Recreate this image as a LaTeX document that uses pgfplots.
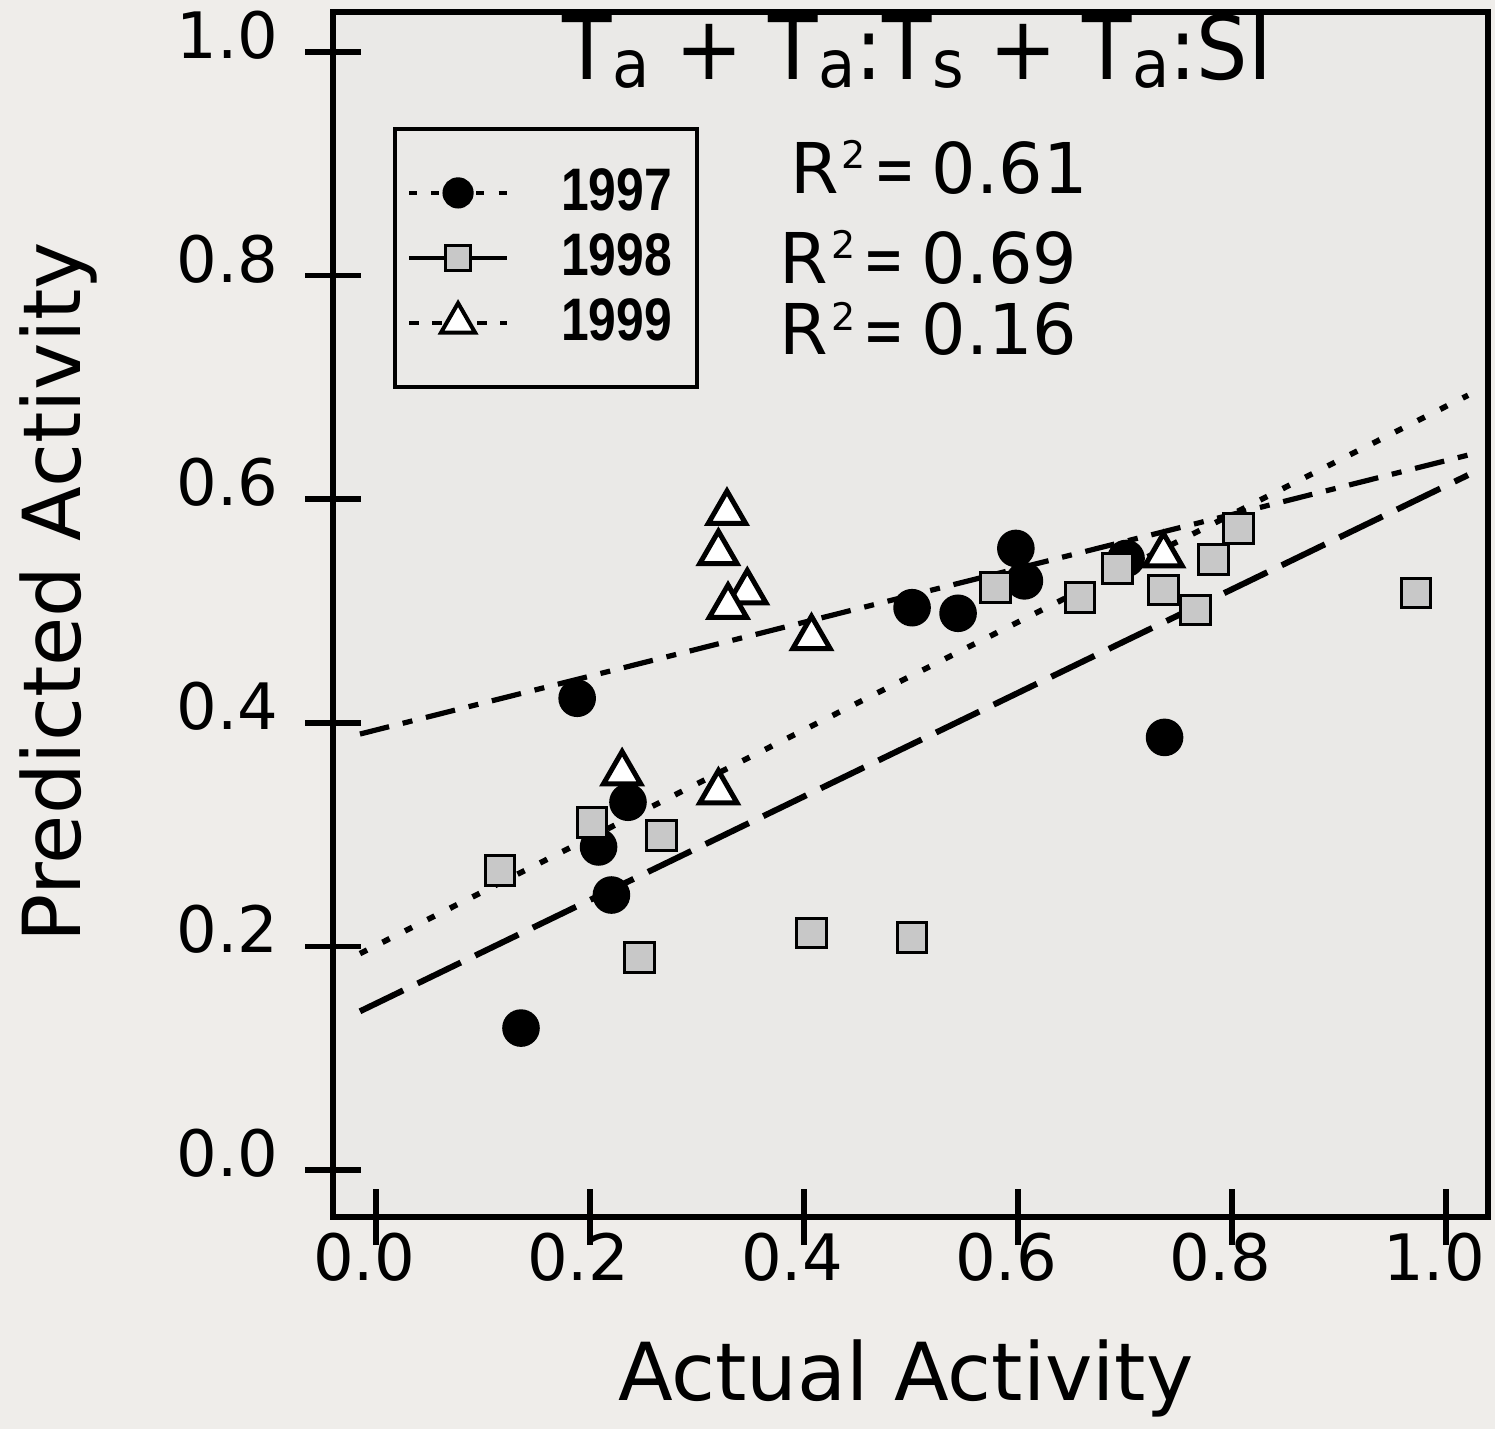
\documentclass[border=0pt]{standalone}
\usepackage{fontspec}
\setmainfont{DejaVu Sans}
\newfontfamily\legfont{Liberation Sans}
\usepackage{graphicx}
\usepackage{pgfplots}
\pgfplotsset{compat=1.18}
\definecolor{bgc}{RGB}{239,237,234}
\definecolor{axbg}{RGB}{234,233,231}
\definecolor{sqfill}{RGB}{200,200,200}
\newcommand{\sub}[1]{\raisebox{-2pt}{\fontsize{16.5}{16.5}\selectfont #1}}
\newcommand{\legtxt}[1]{\scalebox{0.83}[1]{\legfont\bfseries\fontsize{15}{15}\selectfont #1}\hspace*{3.25pt}}
\newcommand{\rsq}[1]{R\hspace{0.04em}\raisebox{6.2pt}{\fontsize{9.5}{9.5}\selectfont 2}\hspace{0.12em}\scalebox{0.7}[1]{=}\hspace{0.24em}#1}
\begin{document}
\begin{tikzpicture}
\fill[bgc] (0,0) rectangle (373.75pt,357.25pt);
\useasboundingbox (0,0) rectangle (373.75pt,357.25pt);
\begin{axis}[
  at={(83.25pt,53pt)}, anchor=south west,
  scale only axis, width=288.75pt, height=301.25pt,
  xmin=-0.0402, xmax=1.0393, ymin=-0.0420, ymax=1.0358,
  axis background/.style={fill=axbg},
  axis line style={line width=1.5pt},
  every tick/.style={black, line width=1.4pt},
  major tick length=14pt, tick align=center,
  xtick pos=bottom, ytick pos=left,
  xtick={0,0.2,0.4,0.6,0.8,1}, ytick={0,0.2,0.4,0.6,0.8,1},
  /pgf/number format/assume math mode=true,
  xticklabel={\pgfmathprintnumber[fixed,fixed zerofill,precision=1]{\tick}},
  yticklabel={\pgfmathprintnumber[fixed,fixed zerofill,precision=1]{\tick}},
  tick label style={font=\fontsize{16}{16}\selectfont, inner sep=0pt},
  xticklabel style={anchor=base, xshift=-3pt, yshift=-8.75pt},
  yticklabel style={anchor=base east, xshift=-6.5pt, yshift=-1.6pt},
  xlabel={Actual Activity},
  xlabel style={at={(axis description cs:0.496,-0.152)}, anchor=base, font=\fontsize{20}{20}\selectfont, inner sep=0pt},
  ylabel={Predicted Activity},
  ylabel style={at={(axis description cs:-0.219,0.5187)}, anchor=base, rotate=0, font=\fontsize{20}{20}\selectfont, inner sep=0pt},
  legend image code/.code={\draw[mark repeat=2,mark phase=2,#1] plot coordinates {(0pt,0pt) (12.25pt,0pt) (24.5pt,0pt)};},
  legend style={at={(axis description cs:0.052,0.9046)}, anchor=north west, draw=black, line width=1pt, fill=none,
    inner xsep=3pt, inner ysep=10pt, row sep=4.25pt, column sep=13pt,
    nodes={inner sep=0pt}, cells={anchor=west}},
  legend cell align=left,
]
\addlegendimage{black, line width=1pt, dash pattern=on 2pt off 3.6pt, mark=*, mark size=3.4pt, mark options={solid, fill=black}}
\addlegendentry{\legtxt{1997}}
\addlegendimage{black, line width=1pt, solid, mark=square*, mark size=3.1pt, mark options={solid, fill=sqfill, line width=0.75pt}}
\addlegendentry{\legtxt{1998}}
\addlegendimage{black, line width=1pt, dash pattern=on 2.5pt off 3.2pt, mark=triangle*, mark size=4.9pt, mark options={solid, fill=white, line width=1pt}}
\addlegendentry{\legtxt{1999}}

% 1997
\addplot[only marks, mark=*, mark size=4.5pt, mark options={draw=black, fill=black, line width=0.4pt}, forget plot] coordinates {
(0.1355,0.127) (0.188,0.422) (0.208,0.289) (0.220,0.246) (0.2355,0.329)
(0.501,0.503) (0.544,0.498) (0.598,0.556) (0.606,0.527) (0.701,0.547) (0.737,0.387)};
% 1998
\addplot[only marks, mark=square*, mark size=3.7pt, mark options={draw=black, fill=sqfill, line width=0.75pt}, forget plot] coordinates {
(0.116,0.268) (0.202,0.311) (0.267,0.299) (0.246,0.190) (0.407,0.212) (0.501,0.208)
(0.579,0.521) (0.658,0.512) (0.693,0.538) (0.736,0.519) (0.766,0.501) (0.783,0.546)
(0.806,0.574) (0.972,0.516)};
% 1999
\addplot[only marks, mark=triangle*, mark size=5.4pt, mark options={draw=black, fill=white, line width=1.25pt}, forget plot] coordinates {
(0.328,0.588) (0.320,0.552) (0.347,0.517) (0.329,0.504) (0.407,0.476)
(0.230,0.355) (0.320,0.338) (0.736,0.550)};
% fitted lines
\addplot[black, line width=1.3pt, dash pattern=on 7.5pt off 3.5pt on 2.5pt off 3.5pt, forget plot] coordinates {(-0.015,0.390) (1.0206,0.6395)};
\addplot[black, line width=1.4pt, dash pattern=on 2pt off 4.3pt, forget plot] coordinates {(-0.015,0.1936) (1.0206,0.693)};
\addplot[black, line width=1.5pt, dash pattern=on 12pt off 4pt, forget plot] coordinates {(-0.015,0.142) (1.0206,0.6216)};

\node[anchor=base, inner sep=0pt, font=\fontsize{22}{22}\selectfont] at (axis description cs:0.506,0.9436)
  {\scalebox{0.92}[1]{T\sub{a} + T\sub{a}:T\sub{s} + T\sub{a}:SI}};
\node[anchor=base west, inner sep=0pt, font=\fontsize{17.5}{17.5}\selectfont] at (axis description cs:0.395,0.8498) {\rsq{0.61}};
\node[anchor=base west, inner sep=0pt, font=\fontsize{17.5}{17.5}\selectfont] at (axis description cs:0.386,0.775) {\rsq{0.69}};
\node[anchor=base west, inner sep=0pt, font=\fontsize{17.5}{17.5}\selectfont] at (axis description cs:0.386,0.7154) {\rsq{0.16}};
\end{axis}
\end{tikzpicture}
\end{document}
